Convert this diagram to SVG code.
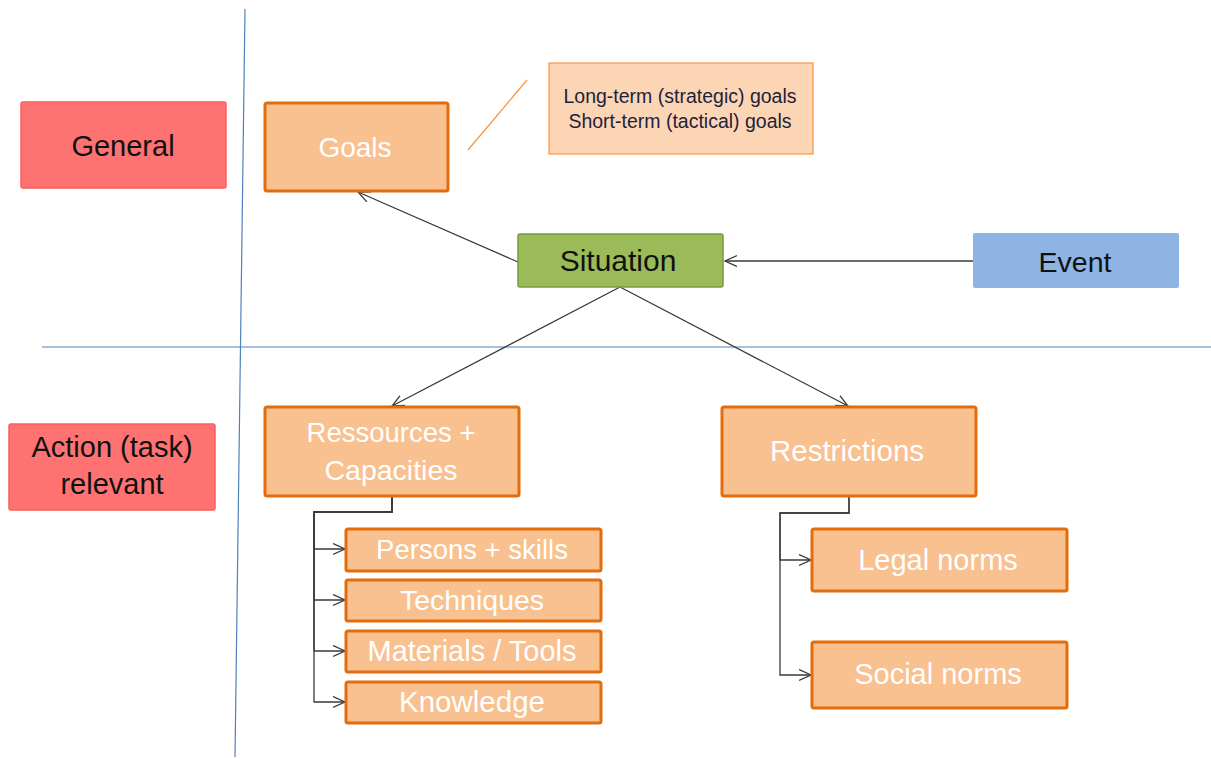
<svg xmlns="http://www.w3.org/2000/svg" width="1211" height="758" viewBox="0 0 1211 758">
<style>
text{font-family:"Liberation Sans",Arial,sans-serif;text-anchor:middle}
.red{fill:#ff7272;stroke:#ff5c5c;stroke-width:1.5}
.org{fill:#f9c090;stroke:#e46c0a;stroke-width:3}
.w{fill:#ffffff}
.k{fill:#111111}
.con{fill:none;stroke:#3a3a3a;stroke-width:1.3}
.blue{stroke:#4f81bd;stroke-width:1.2;fill:none}
</style>
<defs>
<marker id="ah" markerWidth="14" markerHeight="14" refX="12" refY="6" orient="auto" markerUnits="userSpaceOnUse" viewBox="0 0 14 14">
<path d="M0,0.5 L12,6 L0,11.5" fill="none" stroke="#3a3a3a" stroke-width="1.3"/>
</marker>
</defs>
<g id="axes">
<line class="blue" x1="245" y1="9" x2="235" y2="757"/>
<line class="blue" x1="42" y1="347" x2="1211" y2="347"/>
</g>
<g id="connectors">
<line class="con" x1="518" y1="262" x2="358" y2="192" marker-end="url(#ah)"/>
<line class="con" x1="973" y1="261" x2="725" y2="261" marker-end="url(#ah)"/>
<line class="con" x1="620" y1="287" x2="392" y2="406" marker-end="url(#ah)"/>
<line class="con" x1="620" y1="287" x2="848" y2="406" marker-end="url(#ah)"/>
<path class="con" d="M392,496 V512 H314 V549 H345" marker-end="url(#ah)"/>
<path class="con" d="M392,496 V512 H314 V600 H345" marker-end="url(#ah)"/>
<path class="con" d="M392,496 V512 H314 V651 H345" marker-end="url(#ah)"/>
<path class="con" d="M392,496 V512 H314 V702 H345" marker-end="url(#ah)"/>
<path class="con" d="M849,496 V513 H780 V560 H811" marker-end="url(#ah)"/>
<path class="con" d="M849,496 V513 H780 V675 H811" marker-end="url(#ah)"/>
<line x1="468" y1="150" x2="527" y2="80" stroke="#f79646" stroke-width="1.3"/>
</g>
<g id="general">
<rect class="red" x="21" y="102" width="205" height="86" rx="2"/>
<text class="k" x="123" y="156" font-size="29">General</text>
</g>
<g id="action">
<rect class="red" x="9" y="424" width="206" height="86" rx="2"/>
<text class="k" x="112" y="457" font-size="29">Action (task)</text>
<text class="k" x="112" y="494" font-size="29">relevant</text>
</g>
<g id="goals">
<rect class="org" x="265" y="103" width="183" height="88" rx="2"/>
<text class="w" x="355" y="157" font-size="28">Goals</text>
</g>
<g id="goals-note">
<rect x="549" y="63" width="264" height="91" fill="#fcd5b5" stroke="#f79646" stroke-width="1.2"/>
<text fill="#1f1f3a" x="680" y="103" font-size="19.5">Long-term (strategic) goals</text>
<text fill="#1f1f3a" x="680" y="128" font-size="19.5">Short-term (tactical) goals</text>
</g>
<g id="situation">
<rect x="518" y="234" width="205" height="53" rx="2" fill="#9bbb59" stroke="#7a9a3c" stroke-width="1.5"/>
<text class="k" x="618" y="271" font-size="30">Situation</text>
</g>
<g id="event">
<rect x="973" y="233" width="206" height="55" rx="2" fill="#8eb4e3"/>
<text class="k" x="1075" y="272" font-size="28.5">Event</text>
</g>
<g id="ressources">
<rect class="org" x="265" y="407" width="254" height="89" rx="2"/>
<text class="w" x="391" y="442" font-size="27.5">Ressources +</text>
<text class="w" x="391" y="480" font-size="28.5">Capacities</text>
</g>
<g id="persons">
<rect class="org" x="346" y="529" width="255" height="42" rx="2"/>
<text class="w" x="472" y="559" font-size="27.5">Persons + skills</text>
</g>
<g id="techniques">
<rect class="org" x="346" y="580" width="255" height="41" rx="2"/>
<text class="w" x="472" y="610" font-size="28.5">Techniques</text>
</g>
<g id="materials">
<rect class="org" x="346" y="631" width="255" height="41" rx="2"/>
<text class="w" x="472" y="661" font-size="29">Materials / Tools</text>
</g>
<g id="knowledge">
<rect class="org" x="346" y="682" width="255" height="41" rx="2"/>
<text class="w" x="472" y="712" font-size="29.5">Knowledge</text>
</g>
<g id="restrictions">
<rect class="org" x="722" y="407" width="254" height="89" rx="2"/>
<text class="w" x="847" y="461" font-size="29.5">Restrictions</text>
</g>
<g id="legal">
<rect class="org" x="812" y="529" width="255" height="62" rx="2"/>
<text class="w" x="938" y="570" font-size="29">Legal norms</text>
</g>
<g id="social">
<rect class="org" x="812" y="642" width="255" height="66" rx="2"/>
<text class="w" x="938" y="684" font-size="29">Social norms</text>
</g>
</svg>
